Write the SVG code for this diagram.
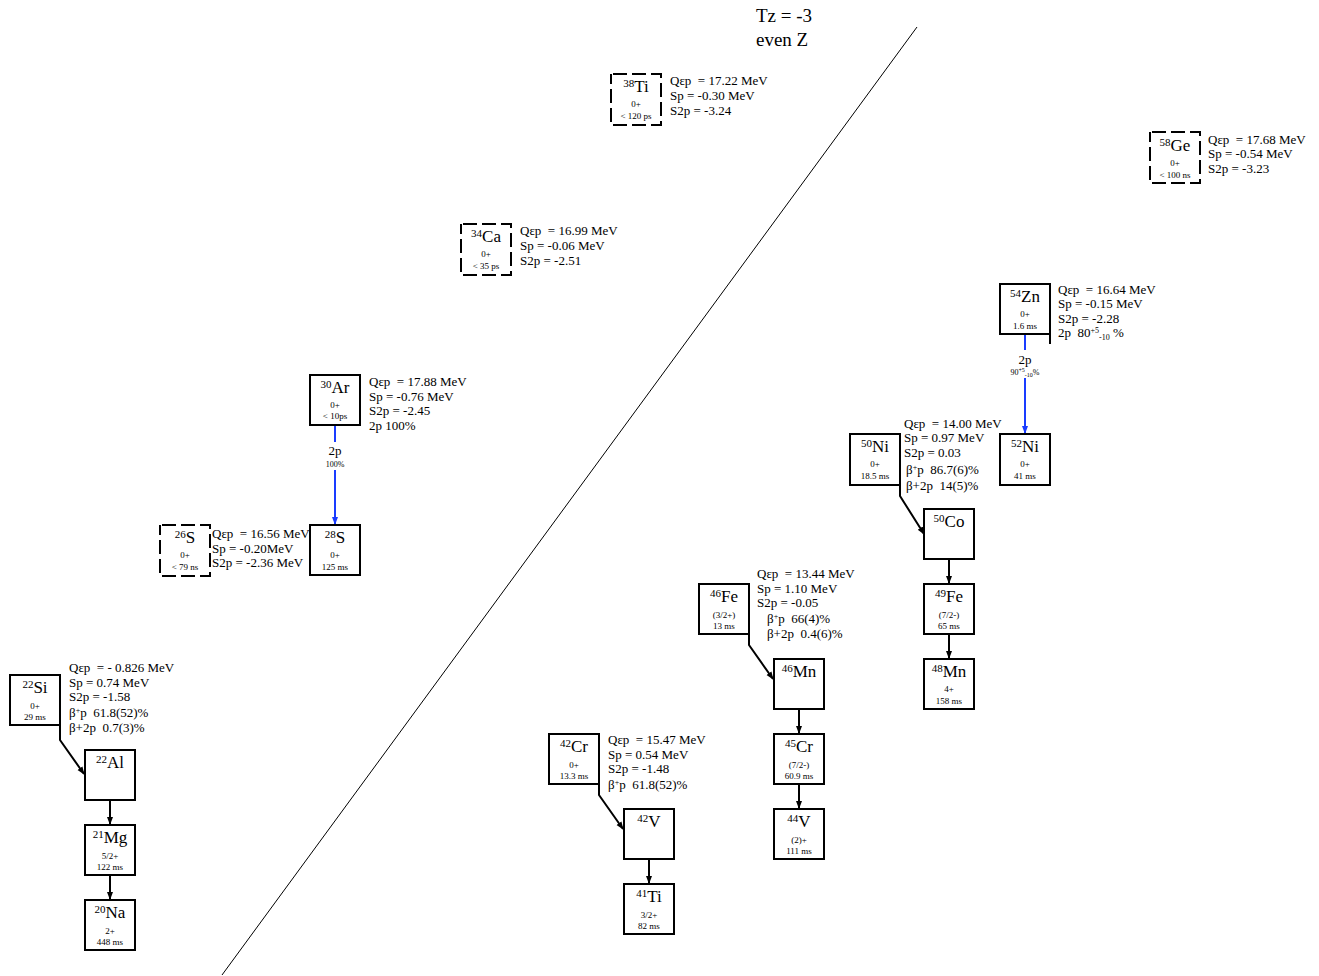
<svg xmlns="http://www.w3.org/2000/svg" width="1319" height="976" viewBox="0 0 1319 976">
<defs>
<style>
text{font-family:"Liberation Serif","Times New Roman",serif;fill:#000;white-space:pre}
.box{fill:#fff;stroke:#000;stroke-width:2}
.dash{fill:#fff;stroke:#000;stroke-width:2;stroke-dasharray:14 5;stroke-dashoffset:-2}
.lab{font-size:17px;text-anchor:middle}
.sup{font-size:11px}
.sm{font-size:9px;text-anchor:middle}
.info{font-size:13px}
.con{fill:none;stroke:#000;stroke-width:2}
.blue{fill:none;stroke:#1a3cff;stroke-width:2}
.bl{font-size:13px;text-anchor:middle}
.bs{font-size:8px;text-anchor:middle}
</style>
<marker id="ak" markerWidth="8" markerHeight="8" refX="7" refY="4" orient="auto" markerUnits="userSpaceOnUse"><path d="M0,1 L8,4 L0,7 Z" fill="#000"/></marker>
<marker id="ab" markerWidth="8" markerHeight="8" refX="7" refY="4" orient="auto" markerUnits="userSpaceOnUse"><path d="M0,1 L8,4 L0,7 Z" fill="#1a3cff"/></marker>
</defs>
<rect width="1319" height="976" fill="#fff"/>
<line x1="917" y1="27" x2="222" y2="975" stroke="#000" stroke-width="1"/>
<text x="756" y="22" style="font-size:19px">Tz = -3</text>
<text x="756" y="46" style="font-size:19px">even Z</text>

<g id="connectors">
<path class="con" d="M60,725 V740 L84,774" marker-end="url(#ak)"/>
<path class="con" d="M110,800 V824" marker-end="url(#ak)"/>
<path class="con" d="M110,875 V899" marker-end="url(#ak)"/>
<path class="blue" d="M335,425 V524" marker-end="url(#ab)"/>
<path class="blue" d="M1025,334 V433" marker-end="url(#ab)"/>
<line x1="1050" y1="334" x2="1050" y2="344" stroke="#000" stroke-width="2"/>
<path class="con" d="M599,784 V795 L623,829" marker-end="url(#ak)"/>
<path class="con" d="M649,859 V883" marker-end="url(#ak)"/>
<path class="con" d="M749,634 V645 L773,679" marker-end="url(#ak)"/>
<path class="con" d="M799,709 V733" marker-end="url(#ak)"/>
<path class="con" d="M799,784 V808" marker-end="url(#ak)"/>
<path class="con" d="M900,485 V496 L924,534" marker-end="url(#ak)"/>
<path class="con" d="M949,559 V583" marker-end="url(#ak)"/>
<path class="con" d="M949,634 V658" marker-end="url(#ak)"/>
<rect x="323" y="442" width="24" height="28" fill="#fff"/>
<text class="bl" x="335" y="455">2p</text>
<text class="bs" x="335" y="467">100%</text>
<rect x="1008" y="350" width="34" height="28" fill="#fff"/>
<text class="bl" x="1025" y="364">2p</text>
<text class="bs" x="1025" y="375">90<tspan font-size="6" dy="-3">+5</tspan><tspan font-size="6" dy="5">-10</tspan><tspan dy="-2">%</tspan></text>
</g>

<g id="Ti38">
<rect class="dash" x="611" y="74" width="50" height="51"/>
<text class="lab" x="636" y="92"><tspan class="sup" dy="-5">38</tspan><tspan dy="5">Ti</tspan></text>
<text class="sm" x="636" y="107">0+</text>
<text class="sm" x="636" y="119">&lt; 120 ps</text>
<text class="info" x="670" y="85">Qεp  = 17.22 MeV</text>
<text class="info" x="670" y="100">Sp = -0.30 MeV</text>
<text class="info" x="670" y="115">S2p = -3.24</text>
</g>

<g id="Ge58">
<rect class="dash" x="1150" y="132" width="50" height="51"/>
<text class="lab" x="1175" y="151"><tspan class="sup" dy="-5">58</tspan><tspan dy="5">Ge</tspan></text>
<text class="sm" x="1175" y="166">0+</text>
<text class="sm" x="1175" y="178">&lt; 100 ns</text>
<text class="info" x="1208" y="144">Qεp  = 17.68 MeV</text>
<text class="info" x="1208" y="158">Sp = -0.54 MeV</text>
<text class="info" x="1208" y="173">S2p = -3.23</text>
</g>

<g id="Ca34">
<rect class="dash" x="461" y="224" width="50" height="51"/>
<text class="lab" x="486" y="242"><tspan class="sup" dy="-5">34</tspan><tspan dy="5">Ca</tspan></text>
<text class="sm" x="486" y="257">0+</text>
<text class="sm" x="486" y="269">&lt; 35 ps</text>
<text class="info" x="520" y="235">Qεp  = 16.99 MeV</text>
<text class="info" x="520" y="250">Sp = -0.06 MeV</text>
<text class="info" x="520" y="265">S2p = -2.51</text>
</g>

<g id="Zn54">
<rect class="box" x="1000" y="284" width="50" height="50"/>
<text class="lab" x="1025" y="302"><tspan class="sup" dy="-5">54</tspan><tspan dy="5">Zn</tspan></text>
<text class="sm" x="1025" y="317">0+</text>
<text class="sm" x="1025" y="329">1.6 ms</text>
<text class="info" x="1058" y="294">Qεp  = 16.64 MeV</text>
<text class="info" x="1058" y="308">Sp = -0.15 MeV</text>
<text class="info" x="1058" y="323">S2p = -2.28</text>
<text class="info" x="1058" y="337">2p  80<tspan font-size="8" dy="-4">+5</tspan><tspan font-size="8" dy="7">-10</tspan><tspan dy="-3"> %</tspan></text>
</g>

<g id="Ni52">
<rect class="box" x="1000" y="434" width="50" height="51"/>
<text class="lab" x="1025" y="452"><tspan class="sup" dy="-5">52</tspan><tspan dy="5">Ni</tspan></text>
<text class="sm" x="1025" y="467">0+</text>
<text class="sm" x="1025" y="479">41 ms</text>
</g>

<g id="Ar30">
<rect class="box" x="310" y="375" width="50" height="50"/>
<text class="lab" x="335" y="393"><tspan class="sup" dy="-5">30</tspan><tspan dy="5">Ar</tspan></text>
<text class="sm" x="335" y="408">0+</text>
<text class="sm" x="335" y="419">&lt; 10ps</text>
<text class="info" x="369" y="386">Qεp  = 17.88 MeV</text>
<text class="info" x="369" y="401">Sp = -0.76 MeV</text>
<text class="info" x="369" y="415">S2p = -2.45</text>
<text class="info" x="369" y="430">2p 100%</text>
</g>

<g id="S28">
<rect class="box" x="310" y="525" width="50" height="50"/>
<text class="lab" x="335" y="543"><tspan class="sup" dy="-5">28</tspan><tspan dy="5">S</tspan></text>
<text class="sm" x="335" y="558">0+</text>
<text class="sm" x="335" y="570">125 ms</text>
</g>

<g id="S26">
<rect class="dash" x="160" y="525" width="50" height="51"/>
<text class="lab" x="185" y="543"><tspan class="sup" dy="-5">26</tspan><tspan dy="5">S</tspan></text>
<text class="sm" x="185" y="558">0+</text>
<text class="sm" x="185" y="570">&lt; 79 ns</text>
<text class="info" x="212" y="538">Qεp  = 16.56 MeV</text>
<text class="info" x="212" y="553">Sp = -0.20MeV</text>
<text class="info" x="212" y="567">S2p = -2.36 MeV</text>
</g>

<g id="Ni50">
<rect class="box" x="850" y="434" width="50" height="51"/>
<text class="lab" x="875" y="452"><tspan class="sup" dy="-5">50</tspan><tspan dy="5">Ni</tspan></text>
<text class="sm" x="875" y="467">0+</text>
<text class="sm" x="875" y="479">18.5 ms</text>
<text class="info" x="904" y="428">Qεp  = 14.00 MeV</text>
<text class="info" x="904" y="442">Sp = 0.97 MeV</text>
<text class="info" x="904" y="457">S2p = 0.03</text>
<text class="info" x="906" y="474">β<tspan font-size="8" dy="-4">+</tspan><tspan dy="4">p  86.7(6)%</tspan></text>
<text class="info" x="906" y="490">β+2p  14(5)%</text>
</g>

<g id="Co50">
<rect class="box" x="924" y="509" width="50" height="50"/>
<text class="lab" x="949" y="527"><tspan class="sup" dy="-5">50</tspan><tspan dy="5">Co</tspan></text>
</g>

<g id="Fe49">
<rect class="box" x="924" y="584" width="50" height="50"/>
<text class="lab" x="949" y="602"><tspan class="sup" dy="-5">49</tspan><tspan dy="5">Fe</tspan></text>
<text class="sm" x="949" y="618">(7/2-)</text>
<text class="sm" x="949" y="629">65 ms</text>
</g>

<g id="Mn48">
<rect class="box" x="924" y="659" width="50" height="50"/>
<text class="lab" x="949" y="677"><tspan class="sup" dy="-5">48</tspan><tspan dy="5">Mn</tspan></text>
<text class="sm" x="949" y="692">4+</text>
<text class="sm" x="949" y="704">158 ms</text>
</g>

<g id="Fe46">
<rect class="box" x="699" y="584" width="50" height="50"/>
<text class="lab" x="724" y="602"><tspan class="sup" dy="-5">46</tspan><tspan dy="5">Fe</tspan></text>
<text class="sm" x="724" y="618">(3/2+)</text>
<text class="sm" x="724" y="629">13 ms</text>
<text class="info" x="757" y="578">Qεp  = 13.44 MeV</text>
<text class="info" x="757" y="593">Sp = 1.10 MeV</text>
<text class="info" x="757" y="607">S2p = -0.05</text>
<text class="info" x="767" y="623">β<tspan font-size="8" dy="-4">+</tspan><tspan dy="4">p  66(4)%</tspan></text>
<text class="info" x="767" y="638">β+2p  0.4(6)%</text>
</g>

<g id="Mn46">
<rect class="box" x="774" y="659" width="50" height="50"/>
<text class="lab" x="799" y="677"><tspan class="sup" dy="-5">46</tspan><tspan dy="5">Mn</tspan></text>
</g>

<g id="Cr45">
<rect class="box" x="774" y="734" width="50" height="50"/>
<text class="lab" x="799" y="752"><tspan class="sup" dy="-5">45</tspan><tspan dy="5">Cr</tspan></text>
<text class="sm" x="799" y="768">(7/2-)</text>
<text class="sm" x="799" y="779">60.9 ms</text>
</g>

<g id="V44">
<rect class="box" x="774" y="809" width="50" height="50"/>
<text class="lab" x="799" y="827"><tspan class="sup" dy="-5">44</tspan><tspan dy="5">V</tspan></text>
<text class="sm" x="799" y="843">(2)+</text>
<text class="sm" x="799" y="854">111 ms</text>
</g>

<g id="Cr42">
<rect class="box" x="549" y="734" width="50" height="50"/>
<text class="lab" x="574" y="752"><tspan class="sup" dy="-5">42</tspan><tspan dy="5">Cr</tspan></text>
<text class="sm" x="574" y="768">0+</text>
<text class="sm" x="574" y="779">13.3 ms</text>
<text class="info" x="608" y="744">Qεp  = 15.47 MeV</text>
<text class="info" x="608" y="759">Sp = 0.54 MeV</text>
<text class="info" x="608" y="773">S2p = -1.48</text>
<text class="info" x="608" y="789">β<tspan font-size="8" dy="-4">+</tspan><tspan dy="4">p  61.8(52)%</tspan></text>
</g>

<g id="V42">
<rect class="box" x="624" y="809" width="50" height="50"/>
<text class="lab" x="649" y="827"><tspan class="sup" dy="-5">42</tspan><tspan dy="5">V</tspan></text>
</g>

<g id="Ti41">
<rect class="box" x="624" y="884" width="50" height="50"/>
<text class="lab" x="649" y="902"><tspan class="sup" dy="-5">41</tspan><tspan dy="5">Ti</tspan></text>
<text class="sm" x="649" y="918">3/2+</text>
<text class="sm" x="649" y="929">82 ms</text>
</g>

<g id="Si22">
<rect class="box" x="10" y="675" width="50" height="50"/>
<text class="lab" x="35" y="693"><tspan class="sup" dy="-5">22</tspan><tspan dy="5">Si</tspan></text>
<text class="sm" x="35" y="709">0+</text>
<text class="sm" x="35" y="720">29 ms</text>
<text class="info" x="69" y="672">Qεp  = - 0.826 MeV</text>
<text class="info" x="69" y="687">Sp = 0.74 MeV</text>
<text class="info" x="69" y="701">S2p = -1.58</text>
<text class="info" x="69" y="717">β<tspan font-size="8" dy="-4">+</tspan><tspan dy="4">p  61.8(52)%</tspan></text>
<text class="info" x="69" y="732">β+2p  0.7(3)%</text>
</g>

<g id="Al22">
<rect class="box" x="85" y="750" width="50" height="50"/>
<text class="lab" x="110" y="768"><tspan class="sup" dy="-5">22</tspan><tspan dy="5">Al</tspan></text>
</g>

<g id="Mg21">
<rect class="box" x="85" y="825" width="50" height="50"/>
<text class="lab" x="110" y="843"><tspan class="sup" dy="-5">21</tspan><tspan dy="5">Mg</tspan></text>
<text class="sm" x="110" y="859">5/2+</text>
<text class="sm" x="110" y="870">122 ms</text>
</g>

<g id="Na20">
<rect class="box" x="85" y="900" width="50" height="50"/>
<text class="lab" x="110" y="918"><tspan class="sup" dy="-5">20</tspan><tspan dy="5">Na</tspan></text>
<text class="sm" x="110" y="934">2+</text>
<text class="sm" x="110" y="945">448 ms</text>
</g>
</svg>
